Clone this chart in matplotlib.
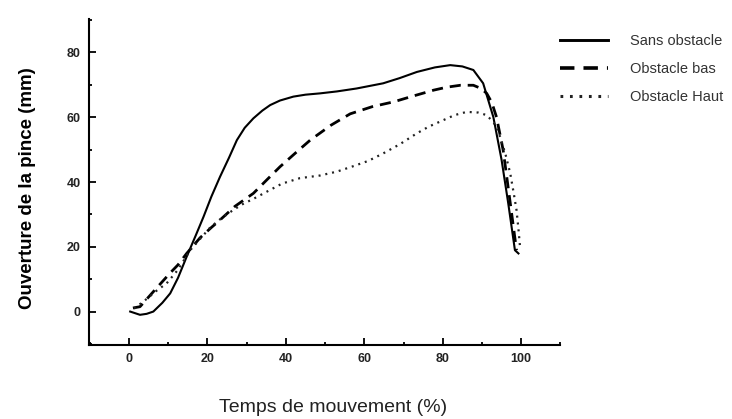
import matplotlib
matplotlib.use("Agg")
import matplotlib.pyplot as plt
from matplotlib.ticker import MultipleLocator

plt.rcParams['font.family'] = ['Liberation Sans', 'DejaVu Sans']

# Data
x_sans = [0.3, 2.8, 4.5, 6.2, 8.5, 10.5, 12.5, 14.7, 17, 19, 21, 23.2, 25.5, 27.5, 29.5, 31.7, 34, 36, 38.5, 41.9, 45, 48.7, 53, 58, 64.8, 69, 73.4, 78, 81.9, 85, 87.8, 90.3, 92.9, 95, 96.7, 98.4, 99.3]
y_sans = [0.1, -0.9, -0.6, 0.1, 2.8, 5.7, 10.5, 17, 23.5, 29.3, 35.5, 41.6, 47.5, 52.9, 56.7, 59.6, 62, 63.7, 65.1, 66.3, 66.9, 67.3, 67.9, 68.8, 70.4, 72, 73.9, 75.3, 76, 75.6, 74.5, 70.4, 60, 46.8, 33.4, 19, 18]

x_bas = [1, 2.8, 7, 10.5, 12.5, 14.7, 18.1, 21, 23.2, 27, 31.7, 35, 38.5, 42.5, 46.2, 51.5, 56.4, 62, 67.5, 72.5, 77.7, 81, 84.5, 87.8, 89.8, 91.2, 92.5, 93.7, 95.4, 97.1, 98.8]
y_bas = [1.2, 1.6, 7.3, 12, 14.5, 18, 22.8, 26, 28.3, 32.5, 36.5, 40.5, 44.7, 49, 52.9, 57.5, 61, 63.2, 64.7, 66.5, 68.3, 69.2, 69.8, 69.8, 68.8, 67.3, 64.5, 60, 49.8, 34.5, 19]

x_haut = [1.3, 4, 7, 9.6, 12.5, 15.6, 18, 20.7, 23.5, 26.6, 29, 31.7, 35.1, 39, 43.6, 48.7, 53, 57, 61, 64.8, 69, 73.4, 76.5, 79.3, 83, 86.1, 89, 91.2, 93, 94.6, 96, 97.2, 98.1, 98.8, 99.3, 99.7]
y_haut = [1, 3.5, 6.5, 8.8, 13, 19, 22.3, 26, 28.8, 31.4, 33.2, 34.8, 37, 39.5, 41.2, 42, 43.2, 44.8, 46.5, 48.8, 51.6, 55, 57.1, 58.6, 60.6, 61.6, 61.4, 60.6, 58.3, 54, 48.5, 42.7, 36.5, 31.4, 25.5, 20]

labels = ["Sans obstacle", "Obstacle bas", "Obstacle Haut"]
x_ticks = [0, 20, 40, 60, 80, 100]
y_ticks = [0, 20, 40, 60, 80]

fig = plt.figure(figsize=(7.32, 4.19), dpi=100)
ax = fig.add_axes([0.1216, 0.1766, 0.644, 0.778])

l1, = ax.plot(x_sans, y_sans, color='black', lw=1.5, ls='-', label=labels[0])
l2, = ax.plot(x_bas, y_bas, color='black', lw=2.0, ls=(0, (4, 2.5)), label=labels[1])
l3, = ax.plot(x_haut, y_haut, color='#222222', lw=1.6, ls=(0, (0.9, 2.2)), label=labels[2])

ax.set_xlim(-10.2, 110)
ax.set_ylim(-10.2, 90.2)
ax.spines['top'].set_visible(False)
ax.spines['right'].set_visible(False)
for s in ('left', 'bottom'):
    ax.spines[s].set_linewidth(1.5)

ax.set_xticks(x_ticks)
ax.set_yticks(y_ticks)
ax.xaxis.set_minor_locator(MultipleLocator(10))
ax.yaxis.set_minor_locator(MultipleLocator(10))
ax.tick_params(which='major', direction='in', length=5, width=1.3)
ax.tick_params(which='minor', direction='in', length=2, width=1.3)
for lab in ax.get_xticklabels() + ax.get_yticklabels():
    lab.set_fontweight('bold')
    lab.set_fontsize(9)
    lab.set_color('#222222')
ax.tick_params(axis='x', pad=6)
ax.tick_params(axis='y', pad=6)

ax.set_ylabel("Ouverture de la pince (mm)", fontsize=13.5, fontweight='bold', labelpad=22, y=0.482)
ax.set_xlabel("Temps de mouvement (%)", fontsize=14, labelpad=24, color='#222222', x=0.517)

leg = fig.legend(handles=[l1, l2, l3], labels=labels, loc='upper left',
                 bbox_to_anchor=(0.7574, 0.933), borderaxespad=0, frameon=False, fontsize=10.5,
                 handlelength=3.3, handletextpad=1.5, labelspacing=0.98)
for t in leg.get_texts():
    t.set_color('#333333')
for h in leg.legend_handles:
    h.set_linewidth(h.get_linewidth() + 0.6)

fig.savefig("out.png", dpi=100)
